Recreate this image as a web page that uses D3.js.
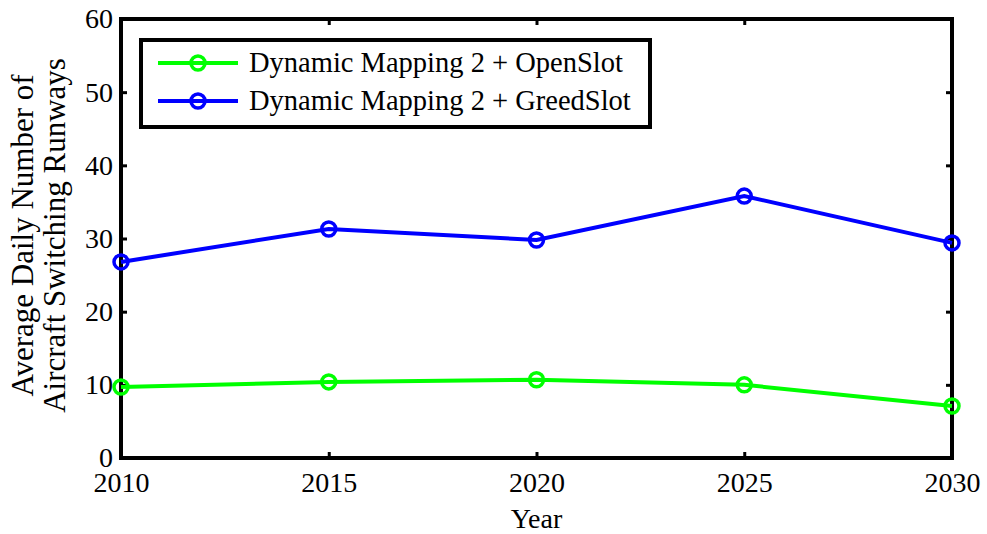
<!DOCTYPE html>
<meta charset="utf-8">
<style>
  body { margin: 0; background: #fff; }
  text { font-family: "Liberation Serif", "Times New Roman", serif; fill: #000; }
</style>
<body>
<script src="https://cdn.jsdelivr.net/npm/d3@7"></script>
<script>

    // data
    var years = [2010, 2015, 2020, 2025, 2030];
    var openSlot = [9.7, 10.4, 10.7, 10.0, 7.1];
    var greedSlot = [26.8, 31.3, 29.8, 35.8, 29.4];
    var yTicks = [0, 10, 20, 30, 40, 50, 60];
    var seriesNames = ["Dynamic Mapping 2 + OpenSlot", "Dynamic Mapping 2 + GreedSlot"];
    var seriesColors = ["#00ff00", "#0000ff"];

    var W = 987, H = 534;
    var margin = {top: 19, right: 35, bottom: 76, left: 121},
        width = W - margin.left - margin.right,
        height = H - margin.top - margin.bottom;

    var x = d3.scaleLinear().domain([2010, 2030]).range([0, width]);
    var y = d3.scaleLinear().domain([0, 60]).range([height, 0]);

    var svg = d3.select("body").append("svg")
        .attr("width", W)
        .attr("height", H)
        .append("g")
        .attr("transform", "translate(" + margin.left + "," + margin.top + ")");

    // inward ticks on all four sides
    var tickLen = 6;
    function styleAxis(g) {
        g.select(".domain").remove();
        g.selectAll(".tick line").attr("stroke", "#000").attr("stroke-width", 3);
        g.selectAll(".tick text").style("font-size", "28px").attr("fill", "#000");
    }

    svg.append("g")
        .attr("transform", "translate(0," + height + ")")
        .call(d3.axisBottom(x).tickValues(years).tickFormat(d3.format("d"))
            .tickSizeInner(-tickLen).tickPadding(14))
        .call(styleAxis);

    svg.append("g")
        .call(d3.axisLeft(y).tickValues(yTicks).tickSizeInner(-tickLen).tickPadding(8))
        .call(styleAxis);

    svg.append("g")
        .call(d3.axisTop(x).tickValues(years).tickFormat("").tickSizeInner(-tickLen))
        .call(styleAxis);

    svg.append("g")
        .attr("transform", "translate(" + width + ",0)")
        .call(d3.axisRight(y).tickValues(yTicks).tickFormat("").tickSizeInner(-tickLen))
        .call(styleAxis);

    // frame
    svg.append("rect")
        .attr("width", width)
        .attr("height", height)
        .attr("fill", "none")
        .attr("stroke", "#000")
        .attr("stroke-width", 4);

    var line = d3.line()
        .x(function (d, i) { return x(years[i]); })
        .y(function (d) { return y(d); });

    [openSlot, greedSlot].forEach(function (vals, k) {
        svg.append("path")
            .datum(vals)
            .attr("d", line)
            .attr("fill", "none")
            .attr("stroke", seriesColors[k])
            .attr("stroke-width", 4);

        svg.selectAll(".m" + k)
            .data(vals)
            .enter().append("circle")
            .attr("class", "m" + k)
            .attr("cx", function (d, i) { return x(years[i]); })
            .attr("cy", function (d) { return y(d); })
            .attr("r", 7)
            .attr("fill", "none")
            .attr("stroke", seriesColors[k])
            .attr("stroke-width", 3.5);
    });

    // legend
    var legend = svg.append("g").attr("transform", "translate(20,21)");
    legend.append("rect")
        .attr("width", 509)
        .attr("height", 87)
        .attr("fill", "#fff")
        .attr("stroke", "#000")
        .attr("stroke-width", 4);

    seriesNames.forEach(function (name, k) {
        var row = legend.append("g").attr("transform", "translate(0," + (23 + k * 38) + ")");
        row.append("line")
            .attr("x1", 17).attr("x2", 97)
            .attr("stroke", seriesColors[k]).attr("stroke-width", 4);
        row.append("circle")
            .attr("cx", 57).attr("r", 7)
            .attr("fill", "none")
            .attr("stroke", seriesColors[k]).attr("stroke-width", 3.5);
        row.append("text")
            .attr("x", 108).attr("dy", "0.3em")
            .style("font-size", "28.5px")
            .text(name);
    });

    // axis titles
    svg.append("text")
        .attr("x", width / 2)
        .attr("y", height + 70)
        .attr("text-anchor", "middle")
        .style("font-size", "28px")
        .text("Year");

    var yl = svg.append("text")
        .attr("transform", "translate(-88," + (height / 2 - 3) + ") rotate(-90)")
        .attr("text-anchor", "middle")
        .style("font-size", "31px");
    yl.append("tspan").attr("x", 0).attr("dy", 0).text("Average Daily Number of");
    yl.append("tspan").attr("x", 0).attr("dy", "1.03em").text("Aircraft Switching Runways");

</script>
</body>
